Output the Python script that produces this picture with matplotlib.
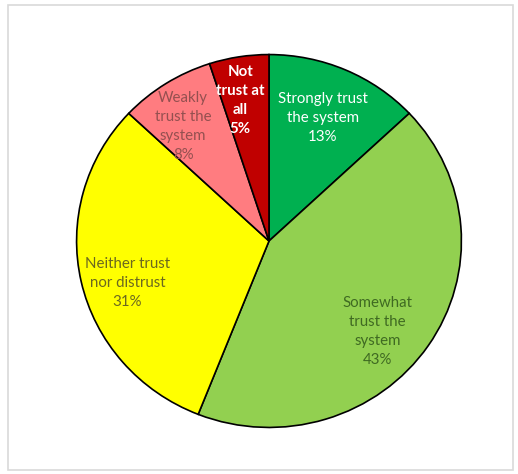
import matplotlib.pyplot as plt
from matplotlib.patches import Rectangle

labels = ["Strongly trust\nthe system", "Somewhat\ntrust the\nsystem", "Neither trust\nnor distrust",
          "Weakly\ntrust the\nsystem", "Not\ntrust at\nall"]
shares = [13, 43, 31, 8, 5]
colors = ["#00B050", "#92D050", "#FFFF00", "#FF7C80", "#C00000"]
text_colors = ["white", "#3F6A22", "#6B6820", "#945050", "white"]
weights = ["normal", "normal", "normal", "normal", "bold"]
# label centres inside the pie (unit circle coords)
label_pos = [(0.28, 0.658), (0.565, -0.487), (-0.736, -0.225), (-0.446, 0.615), (-0.150, 0.754)]

fig = plt.figure(figsize=(5.18, 4.74), dpi=100)
fig.patches.append(Rectangle((8 / 518, 1 - 470 / 474), 505 / 518, 465 / 474,
                             transform=fig.transFigure, fill=False,
                             edgecolor="#D9D9D9", linewidth=1.2))

ax = fig.add_axes([76 / 518, 1 - 428 / 474, 386 / 518, 374 / 474])
ax.pie(shares, colors=colors, startangle=90, counterclock=False,
       wedgeprops=dict(edgecolor="black", linewidth=1.2))
ax.set_aspect("auto")
ax.set_xlim(-1.003, 1.003)
ax.set_ylim(-1.003, 1.003)

for lab, v, (x, y), tc, w in zip(labels, shares, label_pos, text_colors, weights):
    ax.text(x, y, f"{lab}\n{v}%", ha="center", va="center", color=tc,
            fontsize=10.8, fontweight=w, family="Lato", linespacing=1.45)

fig.savefig("out.png", dpi=100)
